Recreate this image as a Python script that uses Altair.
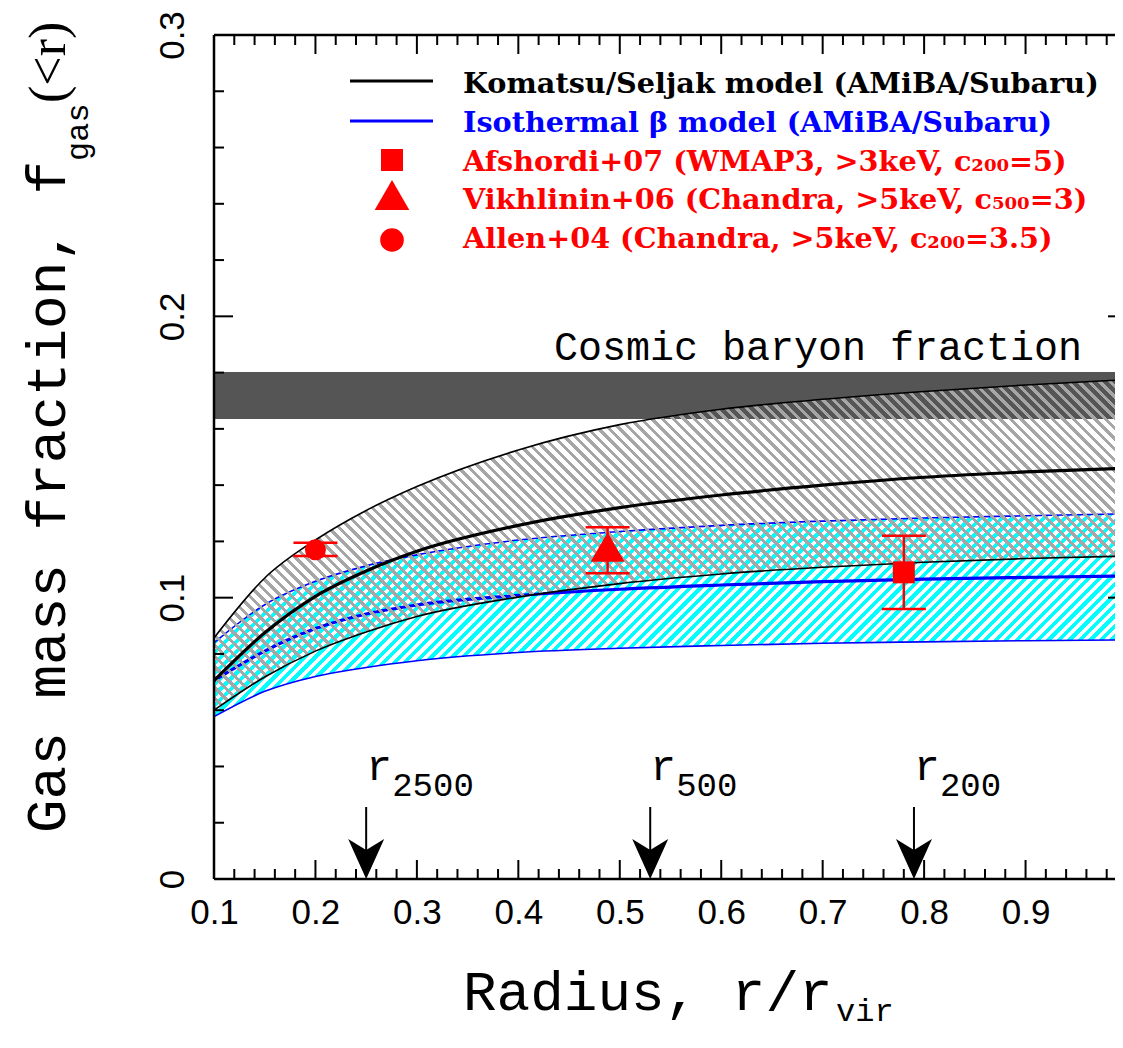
import altair as alt
import pandas as pd

# ---------------- data ----------------
radius = [0.1, 0.15, 0.2, 0.25, 0.3, 0.4, 0.5, 0.6, 0.7, 0.8, 0.9, 1.0]
ks_hi = [0.0857, 0.107, 0.1205, 0.131, 0.1395, 0.1525, 0.1615, 0.167, 0.1705, 0.1733, 0.1756, 0.1775]
ks_mid = [0.0705, 0.0875, 0.1005, 0.1095, 0.1165, 0.1257, 0.132, 0.1365, 0.140, 0.1428, 0.1447, 0.146]
ks_lo = [0.060, 0.0718, 0.081, 0.0878, 0.0933, 0.1002, 0.105, 0.1084, 0.1108, 0.1126, 0.1139, 0.1148]
beta_hi = [0.084, 0.0975, 0.1058, 0.1113, 0.1152, 0.1205, 0.1235, 0.1257, 0.1272, 0.1283, 0.1291, 0.1298]
beta_mid = [0.0705, 0.081, 0.089, 0.0942, 0.0974, 0.1008, 0.103, 0.1045, 0.1057, 0.1066, 0.1072, 0.1077]
beta_lo = [0.0577, 0.0667, 0.072, 0.0752, 0.0776, 0.0805, 0.082, 0.083, 0.0838, 0.0843, 0.0847, 0.085]

cosmic_lo = [0.1635]
cosmic_hi = [0.1802]

obs_x = [0.78, 0.488, 0.2]
obs_y = [0.109, 0.118, 0.117]
obs_lo = [0.096, 0.1087, 0.1148]
obs_hi = [0.122, 0.125, 0.1195]
obs_shape = ["square", "triangle-up", "circle"]
obs_size = [484, 1150, 441]

arrow_x = [0.25, 0.53, 0.79]
arrow_sub = ["2500", "500", "200"]

x_major = [0.1, 0.2, 0.3, 0.4, 0.5, 0.6, 0.7, 0.8, 0.9, 1.0]
x_minor = [round(0.1 + 0.02 * i, 2) for i in range(46) if i % 5 != 0]
y_major = [0.0, 0.1, 0.2, 0.3]
y_minor = [round(0.02 * i, 2) for i in range(16) if i % 5 != 0]

legend_labels = [
    "Komatsu/Seljak model (AMiBA/Subaru)",
    "Isothermal \u03b2 model (AMiBA/Subaru)",
    "Afshordi+07 (WMAP3, >3keV, c\u2082\u2080\u2080=5)",
    "Vikhlinin+06 (Chandra, >5keV, c\u2085\u2080\u2080=3)",
    "Allen+04 (Chandra, >5keV, c\u2082\u2080\u2080=3.5)",
]
legend_colors = ["black", "#0000ff", "#ff0000", "#ff0000", "#ff0000"]

# ---------------- layout ----------------
W, H = 913, 844
YMAX = 0.3
xs = alt.Scale(domain=[0.1, 1.0], nice=False, zero=False)
ys = alt.Scale(domain=[0, YMAX], nice=False, zero=False)

LABEL_FONT = "Liberation Sans Narrow, Liberation Sans"
xaxis = alt.Axis(values=x_major, format=".1~f", title="", ticks=False, domain=False, grid=False,
                 labelFont=LABEL_FONT, labelFontSize=35,
                 labelPadding=16, labelFlush=False, labelOverlap=False, labelColor="black")
yaxis = alt.Axis(values=y_major, format=".1~f", title="", ticks=False, domain=False, grid=False,
                 labelFont=LABEL_FONT, labelFontSize=35,
                 labelAngle=270, labelAlign="center", labelBaseline="bottom",
                 labelPadding=24, labelFlush=False, labelOverlap=False, labelColor="black")


def X(f):
    return alt.X(f, type="quantitative", scale=xs, axis=xaxis)


def Y(f):
    return alt.Y(f, type="quantitative", scale=ys, axis=yaxis)


def hatch(color, lo, hi, direction, period=10.0, frac=0.45):
    w_px = W
    h_px = (max(hi) - min(lo)) / YMAX * H
    r = h_px / w_px
    k = (1 + r) / (1 + r * r)
    n = int(round((w_px + h_px) / period))
    clear = "rgba(255,255,255,0)"
    stops = []
    for i in range(n):
        a = round(i / n, 6)
        b = round((i + frac) / n, 6)
        c = round((i + 1) / n, 6)
        stops += [{"offset": a, "color": color}, {"offset": b, "color": color},
                  {"offset": b, "color": clear}, {"offset": c, "color": clear}]
    if direction == "back":
        x1, y1, x2, y2 = 0, 1, k, 1 - k * r
    else:
        x1, y1, x2, y2 = 0, 0, k, k * r
    return {"gradient": "linear", "x1": x1, "y1": y1, "x2": x2, "y2": y2, "stops": stops}


cdf = pd.DataFrame({"r": radius, "ks_hi": ks_hi, "ks_mid": ks_mid, "ks_lo": ks_lo,
                    "beta_hi": beta_hi, "beta_mid": beta_mid, "beta_lo": beta_lo})
one = pd.DataFrame({"a": [0]})

layers = []

# cosmic baryon band
bdf = pd.DataFrame({"x0": [radius[0]], "x1": [radius[-1]], "lo": cosmic_lo, "hi": cosmic_hi})
layers.append(alt.Chart(bdf).mark_rect(color="#555555").encode(x=X("x0"), x2="x1", y=Y("lo"), y2="hi"))

# isothermal beta band (cyan hatch) + blue lines
layers.append(alt.Chart(cdf).mark_area(color=hatch("#00ffff", beta_lo, beta_hi, "fwd", period=10.5, frac=0.5),
                                       interpolate="monotone")
              .encode(x=X("r"), y=Y("beta_lo"), y2="beta_hi"))
for col, w in [("beta_lo", 1.6), ("beta_hi", 1.6), ("beta_mid", 3.2)]:
    layers.append(alt.Chart(cdf).mark_line(color="#0000ff", strokeWidth=w, interpolate="monotone")
                  .encode(x=X("r"), y=Y(col)))

# Komatsu/Seljak band (gray hatch) + black lines
layers.append(alt.Chart(cdf).mark_area(color=hatch("#a6a6a6", ks_lo, ks_hi, "back", period=10.5, frac=0.42),
                                       interpolate="monotone")
              .encode(x=X("r"), y=Y("ks_lo"), y2="ks_hi"))
for col, w in [("ks_lo", 1.6), ("ks_hi", 1.6), ("ks_mid", 3.2)]:
    layers.append(alt.Chart(cdf).mark_line(color="black", strokeWidth=w, interpolate="monotone")
                  .encode(x=X("r"), y=Y(col)))

# observations
odf = pd.DataFrame({"x": obs_x, "y": obs_y, "lo": obs_lo, "hi": obs_hi,
                    "shape": obs_shape, "size": obs_size})
layers.append(alt.Chart(odf).mark_rule(color="#ff0000", strokeWidth=2.5)
              .encode(x=X("x"), y=Y("lo"), y2="hi"))
for col in ["lo", "hi"]:
    layers.append(alt.Chart(odf).mark_tick(color="#ff0000", orient="horizontal", size=44,
                                           thickness=2.5, opacity=1)
                  .encode(x=X("x"), y=Y(col)))
layers.append(alt.Chart(odf).mark_point(color="#ff0000", filled=True, opacity=1)
              .encode(x=X("x"), y=Y("y"), shape=alt.Shape("shape:N", scale=None),
                      size=alt.Size("size:Q", scale=None)))

# radius markers (arrows)
adf = pd.DataFrame({"x": arrow_x, "sub": arrow_sub})
layers.append(alt.Chart(adf).mark_rule(color="black", strokeWidth=2)
              .encode(x=X("x"), y=alt.value(H - 72), y2=alt.value(H - 10)))
layers.append(alt.Chart(adf).mark_point(shape="M0,0 L-0.9,-2 L0,-1.45 L0.9,-2 Z", size=1600,
                                        filled=True, color="black", opacity=1)
              .encode(x=X("x"), y=alt.value(H)))
layers.append(alt.Chart(adf).mark_text(text="r", align="left", baseline="alphabetic",
                                       font="Liberation Mono", fontSize=43, color="black")
              .encode(x=X("x"), y=alt.value(745)))
layers.append(alt.Chart(adf).mark_text(align="left", baseline="alphabetic", dx=26,
                                       font="Liberation Mono", fontSize=34, color="black")
              .encode(x=X("x"), y=alt.value(761), text="sub:N"))

# cosmic baryon label
layers.append(alt.Chart(pd.DataFrame({"t": ["Cosmic baryon fraction"]}))
              .mark_text(align="right", baseline="alphabetic", font="Liberation Mono", fontSize=40,
                         color="black")
              .encode(x=alt.value(868), y=alt.value(325), text="t:N"))

# legend
leg_base = [58, 97, 136, 174, 213]
for lab, col, yb in zip(legend_labels, legend_colors, leg_base):
    layers.append(alt.Chart(pd.DataFrame({"t": [lab]}))
                  .mark_text(align="left", baseline="alphabetic", font="DejaVu Serif",
                             fontWeight="bold", fontSize=28.7, color=col)
                  .encode(x=alt.value(249), y=alt.value(yb), text="t:N"))
for col, yy in [("black", 46), ("#0000ff", 86)]:
    layers.append(alt.Chart(one).mark_rule(color=col, strokeWidth=3)
                  .encode(x=alt.value(136), x2=alt.value(219), y=alt.value(yy)))
for shp, yy, sz in zip(["square", "triangle-up", "circle"], [125, 160, 205], [484, 1200, 560]):
    layers.append(alt.Chart(one).mark_point(shape=shp, size=sz, filled=True, color="#ff0000", opacity=1)
                  .encode(x=alt.value(178), y=alt.value(yy)))

# axis titles
layers.append(alt.Chart(pd.DataFrame({"t": ["Radius, r/r"]}))
              .mark_text(align="left", baseline="alphabetic", font="Liberation Mono", fontSize=56,
                         color="black")
              .encode(x=alt.value(249), y=alt.value(975), text="t:N"))
layers.append(alt.Chart(pd.DataFrame({"t": ["vir"]}))
              .mark_text(align="left", baseline="alphabetic", font="Liberation Mono", fontSize=32,
                         color="black")
              .encode(x=alt.value(622), y=alt.value(986), text="t:N"))
layers.append(alt.Chart(pd.DataFrame({"t": ["Gas mass fraction, f"]}))
              .mark_text(align="left", baseline="alphabetic", angle=270, font="Liberation Mono",
                         fontSize=56, color="black")
              .encode(x=alt.value(-149), y=alt.value(798), text="t:N"))
layers.append(alt.Chart(pd.DataFrame({"t": ["gas"]}))
              .mark_text(align="left", baseline="alphabetic", angle=270, font="Liberation Mono",
                         fontSize=32, color="black")
              .encode(x=alt.value(-126), y=alt.value(126), text="t:N"))
layers.append(alt.Chart(pd.DataFrame({"t": ["(<r)"]}))
              .mark_text(align="left", baseline="alphabetic", angle=270, font="Liberation Serif",
                         fontSize=52, color="black")
              .encode(x=alt.value(-149), y=alt.value(68), text="t:N"))


# inward ticks on all four sides
def vticks(vals, length):
    d = pd.DataFrame({"v": vals})
    bot = alt.Chart(d).mark_rule(color="black", strokeWidth=2).encode(
        x=X("v"), y=alt.value(H), y2=alt.value(H - length))
    top = alt.Chart(d).mark_rule(color="black", strokeWidth=2).encode(
        x=X("v"), y=alt.value(0), y2=alt.value(length))
    return [bot, top]


def hticks(vals, length):
    d = pd.DataFrame({"v": vals})
    left = alt.Chart(d).mark_rule(color="black", strokeWidth=2).encode(
        y=Y("v"), x=alt.value(0), x2=alt.value(length))
    right = alt.Chart(d).mark_rule(color="black", strokeWidth=2).encode(
        y=Y("v"), x=alt.value(W), x2=alt.value(W - length))
    return [left, right]


layers += vticks(x_major, 19) + vticks(x_minor, 10) + hticks(y_major, 19) + hticks(y_minor, 10)

# frame
layers.append(alt.Chart(one).mark_rule(color="black", strokeWidth=2.5)
              .encode(x=alt.value(0), x2=alt.value(W), y=alt.value(0)))
layers.append(alt.Chart(one).mark_rule(color="black", strokeWidth=2.5)
              .encode(x=alt.value(0), x2=alt.value(W), y=alt.value(H)))
layers.append(alt.Chart(one).mark_rule(color="black", strokeWidth=2.5)
              .encode(x=alt.value(0), y=alt.value(0), y2=alt.value(H)))
layers.append(alt.Chart(one).mark_rule(color="black", strokeWidth=2.5)
              .encode(x=alt.value(W), y=alt.value(0), y2=alt.value(H)))

chart = alt.layer(*layers).properties(
    width=W, height=H,
    autosize=alt.AutoSizeParams(type="none"),
    padding={"left": 206, "top": 27, "right": -12, "bottom": 156},
).configure_view(stroke=None)

chart.save("out.html", embed_options={"renderer": "svg", "actions": False})
